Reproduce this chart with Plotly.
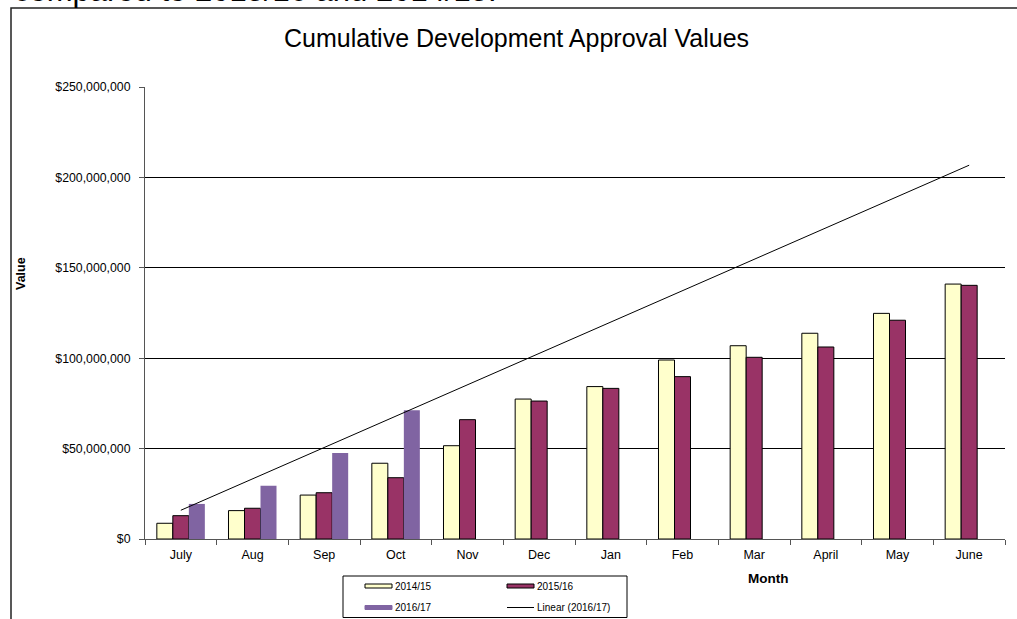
import numpy as np
import plotly.graph_objects as go

months = ["July", "Aug", "Sep", "Oct", "Nov", "Dec", "Jan", "Feb", "Mar", "April", "May", "June"]
v_2014_15 = [8.7e6, 15.7e6, 24.3e6, 41.9e6, 51.6e6, 77.4e6, 84.3e6, 99.0e6, 106.9e6, 113.8e6, 124.8e6, 141.0e6]
v_2015_16 = [12.9e6, 17.0e6, 25.6e6, 33.9e6, 66.0e6, 76.3e6, 83.3e6, 89.8e6, 100.5e6, 106.2e6, 121.0e6, 140.3e6]
v_2016_17 = [19.4e6, 29.5e6, 47.6e6, 71.2e6, None, None, None, None, None, None, None, None]
y_ticks = [0, 50e6, 100e6, 150e6, 200e6, 250e6]
y_tick_labels = ["$0", "$50,000,000", "$100,000,000", "$150,000,000", "$200,000,000", "$250,000,000"]

# linear trend fitted to the 2016/17 data, drawn across all months
known = [(i + 1, v) for i, v in enumerate(v_2016_17) if v is not None]
slope, intercept = np.polyfit([k[0] for k in known], [k[1] for k in known], 1)
trend = [intercept + slope * (i + 1) for i in range(len(months))]

W, H = 1017, 619
L, R, T, B = 145, 12, 87, 80
PW, PH = W - L - R, H - T - B

def px(x):
    return (x - L) / PW

def py(y):
    return (H - B - y) / PH

FONT = "Liberation Sans, Arial, sans-serif"

fig = go.Figure()
fig.add_trace(go.Bar(x=months, y=v_2014_15, name="2014/15",
                     marker=dict(color="#FFFFCC", line=dict(color="#000000", width=1))))
fig.add_trace(go.Bar(x=months, y=v_2015_16, name="2015/16",
                     marker=dict(color="#993366", line=dict(color="#000000", width=1))))
fig.add_trace(go.Bar(x=months, y=v_2016_17, name="2016/17",
                     marker=dict(color="#8064A2", line=dict(color="#8064A2", width=0))))
fig.add_trace(go.Scatter(x=months, y=trend, mode="lines", name="Linear (2016/17)",
                         line=dict(color="#000000", width=1)))

shapes = []
annotations = []

# outer frame (extends past the window on right and bottom)
shapes.append(dict(type="rect", xref="paper", yref="paper",
                   x0=px(11), x1=px(1030), y0=py(8), y1=py(640),
                   line=dict(color="#222222", width=1.5), fillcolor="rgba(0,0,0,0)", layer="below"))

# document text above the chart, cut off by the top edge as in the reference
annotations.append(dict(text="compared to 2015/16 and 2014/15.", xref="paper", yref="paper",
                        x=px(12), y=py(10), xanchor="left", yanchor="bottom", showarrow=False,
                        font=dict(family=FONT, size=31, color="#000000")))
# title
annotations.append(dict(text="Cumulative Development Approval Values", xref="paper", yref="paper",
                        x=px(516), y=py(38), xanchor="center", yanchor="middle", showarrow=False,
                        font=dict(family=FONT, size=25, color="#000000")))
# axis titles
annotations.append(dict(text="<b>Value</b>", xref="paper", yref="paper",
                        x=px(21), y=py(273), xanchor="center", yanchor="middle", textangle=-90,
                        showarrow=False, font=dict(family=FONT, size=12.5, color="#000000")))
annotations.append(dict(text="<b>Month</b>", xref="paper", yref="paper",
                        x=px(768), y=py(578), xanchor="center", yanchor="middle",
                        showarrow=False, font=dict(family=FONT, size=13.5, color="#000000")))

# manual legend
shapes.append(dict(type="rect", xref="paper", yref="paper",
                   x0=px(343), x1=px(627), y0=py(576), y1=py(617.5),
                   line=dict(color="#000000", width=1), fillcolor="#FFFFFF"))
legend_items = [
    ("2014/15", "#FFFFCC", "#000000", 365, 586, "rect"),
    ("2015/16", "#993366", "#000000", 507, 586, "rect"),
    ("2016/17", "#8064A2", "#8064A2", 365, 607.5, "rect"),
    ("Linear (2016/17)", "#000000", "#000000", 507, 607.5, "line"),
]
for label, fill, edge, x0, yc, kind in legend_items:
    if kind == "rect":
        shapes.append(dict(type="rect", xref="paper", yref="paper",
                           x0=px(x0), x1=px(x0 + 27), y0=py(yc - 2), y1=py(yc + 2),
                           line=dict(color=edge, width=1), fillcolor=fill))
    else:
        shapes.append(dict(type="line", xref="paper", yref="paper",
                           x0=px(x0), x1=px(x0 + 27), y0=py(yc), y1=py(yc),
                           line=dict(color=edge, width=1)))
    annotations.append(dict(text=label, xref="paper", yref="paper",
                            x=px(x0 + 28), y=py(yc), xanchor="left", yanchor="middle",
                            showarrow=False, font=dict(family=FONT, size=10, color="#000000")))

fig.update_layout(
    width=W, height=H,
    margin=dict(l=L, r=R, t=T, b=B, pad=0),
    paper_bgcolor="#FFFFFF", plot_bgcolor="#FFFFFF",
    barmode="group", bargap=0.33, bargroupgap=0,
    showlegend=False,
    font=dict(family=FONT, color="#000000"),
    shapes=shapes, annotations=annotations,
    xaxis=dict(type="category", categoryorder="array", categoryarray=months,
               showline=True, linecolor="#555555", linewidth=1,
               ticks="outside", ticklen=5, tickcolor="#555555", tickson="boundaries",
               ticklabelstandoff=4,
               tickfont=dict(family=FONT, size=12.5, color="#000000"),
               showgrid=False, zeroline=False, fixedrange=True),
    yaxis=dict(range=[0, 250e6], tickvals=y_ticks, ticktext=y_tick_labels,
               showline=True, linecolor="#555555", linewidth=1,
               ticks="outside", ticklen=5, tickcolor="#555555",
               ticklabelstandoff=6,
               tickfont=dict(family=FONT, size=12.3, color="#000000"),
               showgrid=True, gridcolor="#000000", gridwidth=1,
               zeroline=False, fixedrange=True),
)

fig.write_html("out.html", config={"displayModeBar": False})
